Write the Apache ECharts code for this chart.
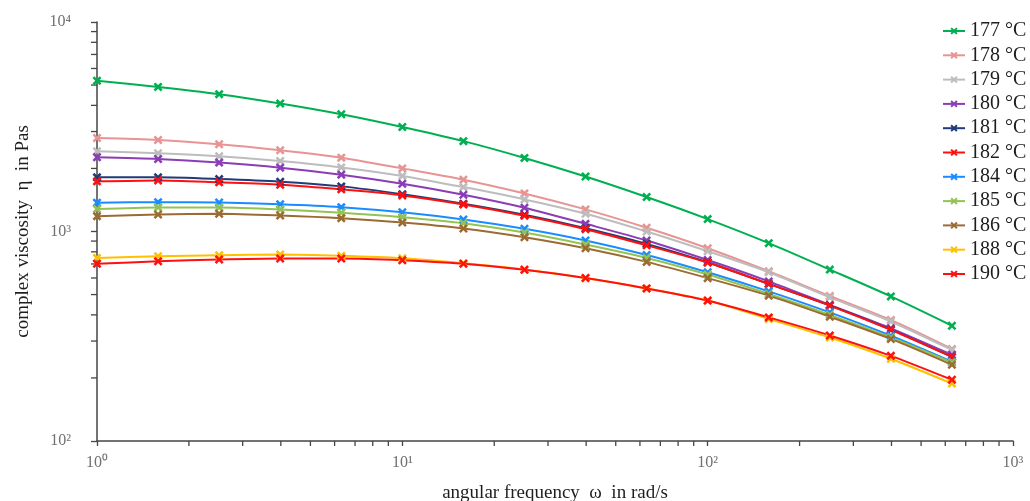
<!DOCTYPE html>
<html>
<head>
<meta charset="utf-8">
<script src="https://cdn.jsdelivr.net/npm/echarts@6/dist/echarts.min.js"></script>
<style>
  html, body { margin: 0; padding: 0; background: #ffffff; }
  #chart { width: 1030px; height: 501px; }
</style>
</head>
<body>
<div id="chart"></div>
<script>
// Angular frequency sweep, rad/s (five points per decade)
const freq = [1, 1.585, 2.512, 3.981, 6.31, 10, 15.85, 25.12, 39.81, 63.1, 100, 158.5, 251.2, 398.1, 631];

// Complex viscosity in Pas at each melt temperature
const eta177 = [5240, 4900, 4525, 4085, 3630, 3155, 2700, 2245, 1830, 1460, 1146, 880, 658, 490, 355];
const eta178 = [2795, 2734, 2608, 2441, 2252, 2001, 1768, 1520, 1275, 1042, 832, 646, 492, 378, 275];
const eta179 = [2414, 2362, 2285, 2169, 2023, 1842, 1629, 1423, 1216, 1000, 805, 639, 485, 372, 272];
const eta180 = [2260, 2218, 2132, 2017, 1868, 1691, 1498, 1299, 1088, 906, 731, 578, 446, 345, 258];
const eta181 = [1813, 1813, 1779, 1729, 1642, 1507, 1357, 1202, 1037, 873, 713, 562, 444, 340, 252];
const eta182 = [1735, 1754, 1716, 1673, 1589, 1487, 1346, 1189, 1026, 859, 711, 562, 443, 339, 252];
const eta184 = [1372, 1381, 1376, 1350, 1307, 1235, 1141, 1030, 906, 773, 639, 518, 411, 318, 239];
const eta185 = [1279, 1303, 1303, 1275, 1229, 1171, 1096, 989, 866, 748, 623, 503, 400, 312, 237];
const eta186 = [1184, 1206, 1216, 1193, 1158, 1104, 1034, 939, 832, 716, 599, 494, 392, 307, 231];
const eta188 = [748, 762, 770, 776, 765, 745, 705, 658, 600, 535, 468, 382, 312, 247, 188];
const eta190 = [701, 721, 735, 743, 743, 729, 701, 657, 600, 535, 468, 389, 319, 255, 196];

const seriesNames = ['177 °C', '178 °C', '179 °C', '180 °C', '181 °C', '182 °C', '184 °C', '185 °C', '186 °C', '188 °C', '190 °C'];
const seriesValues = [eta177, eta178, eta179, eta180, eta181, eta182, eta184, eta185, eta186, eta188, eta190];
const seriesColors = ['#00b050', '#e89494', '#bdbdbd', '#8a3db5', '#1f3c78', '#ff1010', '#1a8cff', '#92c353', '#9c6b34', '#ffc000', '#ff1010'];

// Intermediate (2..9 x 10^n) tick positions on both log axes
const minorTicksX = [2, 3, 4, 5, 6, 7, 8, 9, 20, 30, 40, 50, 60, 70, 80, 90, 200, 300, 400, 500, 600, 700, 800, 900];
const minorTicksY = [200, 300, 400, 500, 600, 700, 800, 900, 2000, 3000, 4000, 5000, 6000, 7000, 8000, 9000];

const X_MIN = 1, X_MAX = 1000, Y_MIN = 100, Y_MAX = 10000;
const SERIF = 'Liberation Serif';
const AXIS_COLOR = '#454545';
const SUP = ['⁰', '¹', '²', '³', '⁴', '⁵'];
const powerLabel = v => '10' + SUP[Math.round(Math.log10(v))];

// bold "x" marker
const crossSymbol = 'path://M0,2L2,0L5,3L8,0L10,2L7,5L10,8L8,10L5,7L2,10L0,8L3,5Z';

const lineSeries = seriesNames.map((name, i) => ({
  name: name,
  type: 'line',
  data: freq.map((f, k) => [f, seriesValues[i][k]]),
  smooth: 0.25,
  symbol: crossSymbol,
  symbolSize: 9,
  lineStyle: { color: seriesColors[i], width: 2 },
  itemStyle: { color: seriesColors[i] },
  emphasis: { disabled: true }
}));

const tickSeriesX = {
  type: 'custom',
  silent: true,
  clip: false,
  data: minorTicksX.map(v => [v, Y_MIN]),
  renderItem: (params, api) => {
    const p = api.coord([api.value(0), api.value(1)]);
    return { type: 'line', shape: { x1: p[0], y1: p[1], x2: p[0], y2: p[1] + 5 },
             style: { stroke: AXIS_COLOR, lineWidth: 1.3 } };
  }
};
const tickSeriesY = {
  type: 'custom',
  silent: true,
  clip: false,
  data: minorTicksY.map(v => [X_MIN, v]),
  renderItem: (params, api) => {
    const p = api.coord([api.value(0), api.value(1)]);
    return { type: 'line', shape: { x1: p[0], y1: p[1], x2: p[0] - 6, y2: p[1] },
             style: { stroke: AXIS_COLOR, lineWidth: 1.3 } };
  }
};

const chart = echarts.init(document.getElementById('chart'), null, { renderer: 'canvas' });
chart.setOption({
  animation: false,
  backgroundColor: '#ffffff',
  grid: { left: 97, right: 17, top: 22, bottom: 60, outerBoundsMode: 'none', containLabel: false },
  legend: {
    data: seriesNames,
    orient: 'vertical',
    left: 937,
    top: 16,
    itemWidth: 22,
    itemHeight: 9,
    itemGap: 4.3,
    selectedMode: false,
    textStyle: { fontFamily: SERIF, fontSize: 20, color: '#1e1e1e', lineHeight: 20 }
  },
  xAxis: {
    type: 'log',
    logBase: 10,
    min: X_MIN,
    max: X_MAX,
    name: 'angular frequency  ω  in rad/s',
    nameLocation: 'middle',
    nameGap: 43,
    nameTextStyle: { fontFamily: SERIF, fontSize: 19, color: '#1e1e1e' },
    axisLine: { lineStyle: { color: AXIS_COLOR, width: 1.5 } },
    axisTick: { length: 5, lineStyle: { color: AXIS_COLOR, width: 1.3 } },
    axisLabel: { formatter: powerLabel, fontFamily: SERIF, fontSize: 16, color: '#707070', margin: 14 },
    splitLine: { show: false },
    minorTick: { show: false }
  },
  yAxis: {
    type: 'log',
    logBase: 10,
    min: Y_MIN,
    max: Y_MAX,
    name: 'complex viscosity  η  in Pas',
    nameLocation: 'middle',
    nameGap: 64,
    nameTextStyle: { fontFamily: SERIF, fontSize: 19, color: '#1e1e1e' },
    axisLine: { show: true, lineStyle: { color: AXIS_COLOR, width: 1.5 } },
    axisTick: { show: true, length: 6, lineStyle: { color: AXIS_COLOR, width: 1.3 } },
    axisLabel: { formatter: powerLabel, fontFamily: SERIF, fontSize: 16, color: '#707070', margin: 26 },
    splitLine: { show: false },
    minorTick: { show: false }
  },
  series: [tickSeriesX, tickSeriesY].concat(lineSeries)
});
</script>
</body>
</html>
